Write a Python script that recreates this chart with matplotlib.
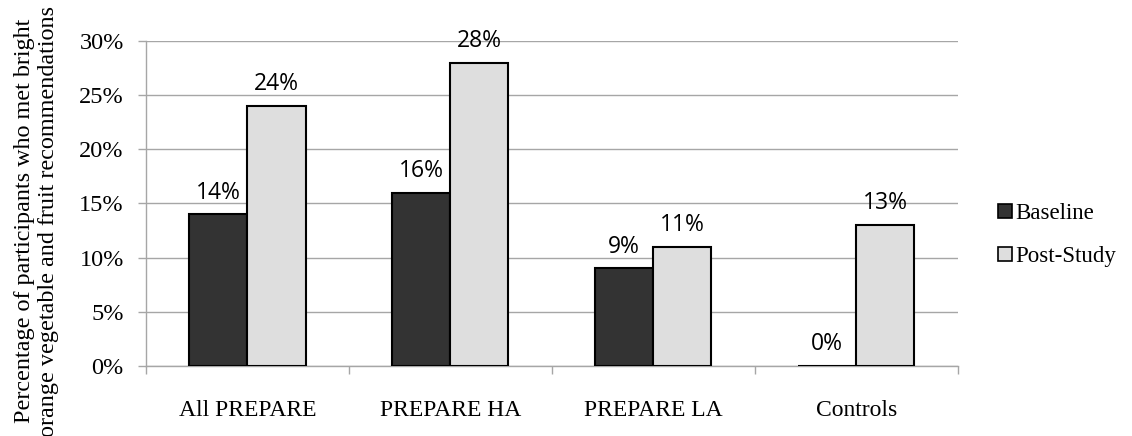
import numpy as np
import matplotlib.pyplot as plt
from matplotlib.patches import Patch

categories = ["All PREPARE", "PREPARE HA", "PREPARE LA", "Controls"]
baseline = [14, 16, 9, 0]
post_study = [24, 28, 11, 13]
series_names = ["Baseline", "Post-Study"]
colors = ["#333333", "#dedede"]

fig = plt.figure(figsize=(11.32, 4.36), dpi=100)
ax = fig.add_axes([0.129, 0.1606, 0.717, 0.7454])

x = np.arange(len(categories))
w = 0.286
grid_c = "#a6a6a6"

for vals, off, c in [(baseline, -w / 2, colors[0]), (post_study, w / 2, colors[1])]:
    ax.bar(x + off, vals, w, color=c, edgecolor="black", linewidth=1.5, zorder=3)
    for xi, v in zip(x + off, vals):
        ax.text(xi, v + 0.9, "%d%%" % v, ha="center", va="bottom",
                fontsize=16.5, family="Open Sans", zorder=4)

ax.set_xlim(-0.5, len(categories) - 0.5)
ax.set_ylim(0, 30)
ax.set_yticks(np.arange(0, 31, 5))
ax.set_yticklabels(["%d%%" % t for t in range(0, 31, 5)], family="Liberation Serif", fontsize=17.5)
ax.set_xticks(np.arange(-0.5, len(categories)), minor=False)
ax.set_xticklabels([])
ax.set_xticks(x, minor=True)
ax.set_xticklabels(categories, minor=True, family="Liberation Serif", fontsize=17)
ax.tick_params(axis="x", which="major", length=6, color=grid_c, width=1)
ax.tick_params(axis="x", which="minor", length=0, pad=24.5)
ax.tick_params(axis="y", length=6, color=grid_c, width=1, pad=10)

ax.yaxis.grid(True, color=grid_c, linewidth=1, zorder=0)
for s in ["top", "right"]:
    ax.spines[s].set_visible(False)
for s in ["left", "bottom"]:
    ax.spines[s].set_color(grid_c)
    ax.spines[s].set_linewidth(1)

# y label sits lower than the axes centre in the original
fig.text(0.032, 0.493, "Percentage of participants who met bright\norange vegetable and fruit recommendations",
         family="Liberation Serif", fontsize=17.4, rotation=90, ha="center", va="center",
         linespacing=1.2)

handles = [Patch(facecolor=c, edgecolor="black", linewidth=1.2) for c in colors]
fig.legend(handles, series_names, loc="center left", bbox_to_anchor=(0.882, 0.461),
           frameon=False, prop={"family": "Liberation Serif", "size": 16.5},
           handlelength=0.6, handleheight=0.6, handletextpad=0.15, labelspacing=0.95,
           borderaxespad=0, borderpad=0)

fig.savefig("out.png", dpi=100)
